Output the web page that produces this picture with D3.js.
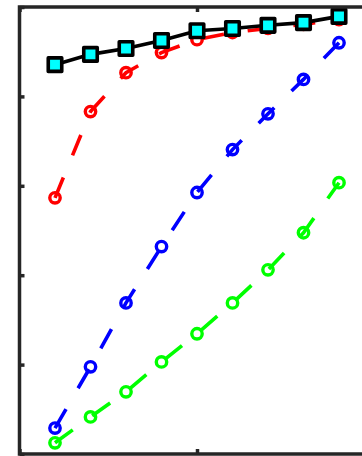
<!DOCTYPE html>
<html>
<head>
<meta charset="utf-8">
<script src="https://cdn.jsdelivr.net/npm/d3@7"></script>
<style>
  html, body { margin: 0; padding: 0; background: #fff; overflow: hidden; }
  svg { display: block; }
</style>
</head>
<body>
<svg id="chart" width="362" height="456"></svg>
<script>
// x positions shared by every series
const xValues = [1, 2, 3, 4, 5, 6, 7, 8, 9];

// series values
const blackSeries = [0.871, 0.894, 0.907, 0.925, 0.947, 0.952, 0.959, 0.965, 0.979];
const redSeries   = [0.573, 0.766, 0.853, 0.898, 0.927, 0.943, 0.952, 0.961, 0.972];
const blueSeries  = [0.058, 0.195, 0.338, 0.464, 0.585, 0.681, 0.761, 0.838, 0.920];
const greenSeries = [0.025, 0.083, 0.139, 0.206, 0.269, 0.338, 0.412, 0.495, 0.607];

// tick positions
const xTicks = [0, 5, 10];
const yTicks = [0, 0.2, 0.4, 0.6, 0.8, 1];

const svg = d3.select("#chart");

const x = d3.scaleLinear().domain([0, 10]).range([19.5, 374.5]);
const y = d3.scaleLinear().domain([0, 1]).range([454, 7]);

const line = d3.line().x((d, i) => x(xValues[i])).y(d => y(d));

// dashed series with open circle markers
const dashed = [
  { values: redSeries,   color: "#ff0000" },
  { values: blueSeries,  color: "#0000ff" },
  { values: greenSeries, color: "#00ff00" }
];

dashed.forEach(s => {
  svg.append("path")
    .datum(s.values)
    .attr("d", line)
    .attr("fill", "none")
    .attr("stroke", s.color)
    .attr("stroke-width", 3.6)
    .attr("stroke-dasharray", "22,24")
    .attr("stroke-linecap", "butt");
  svg.append("g")
    .selectAll("circle")
    .data(s.values)
    .join("circle")
    .attr("cx", (d, i) => x(xValues[i]))
    .attr("cy", d => y(d))
    .attr("r", 5.2)
    .attr("fill", "none")
    .attr("stroke", s.color)
    .attr("stroke-width", 3.4);
});

// solid black series with cyan square markers
svg.append("path")
  .datum(blackSeries)
  .attr("d", line)
  .attr("fill", "none")
  .attr("stroke", "#000")
  .attr("stroke-width", 3.6);

const sq = 13.5;
svg.append("g")
  .selectAll("rect")
  .data(blackSeries)
  .join("rect")
  .attr("x", (d, i) => x(xValues[i]) - sq / 2)
  .attr("y", d => y(d) - sq / 2)
  .attr("width", sq)
  .attr("height", sq)
  .attr("fill", "#00ffff")
  .attr("stroke", "#000")
  .attr("stroke-width", 3.6)
  .attr("stroke-linejoin", "round");

// axes box with inward ticks
function styleAxis(g) {
  g.select(".domain").remove();
  g.selectAll(".tick line").attr("stroke", "#262626").attr("stroke-width", 3.5);
  g.selectAll(".tick text").remove();
}

svg.append("g")
  .attr("transform", `translate(${x(0)},0)`)
  .call(d3.axisLeft(y).tickValues(yTicks).tickSize(-5).tickFormat(() => ""))
  .call(styleAxis);

svg.append("g")
  .attr("transform", `translate(0,${y(0)})`)
  .call(d3.axisBottom(x).tickValues(xTicks).tickSize(-5).tickFormat(() => ""))
  .call(styleAxis);

svg.append("g")
  .attr("transform", `translate(0,${y(1)})`)
  .call(d3.axisTop(x).tickValues(xTicks).tickSize(-5).tickFormat(() => ""))
  .call(styleAxis);

svg.append("rect")
  .attr("x", x(0))
  .attr("y", y(1))
  .attr("width", x(10) - x(0))
  .attr("height", y(0) - y(1))
  .attr("fill", "none")
  .attr("stroke", "#262626")
  .attr("stroke-width", 3.5);
</script>
</body>
</html>
